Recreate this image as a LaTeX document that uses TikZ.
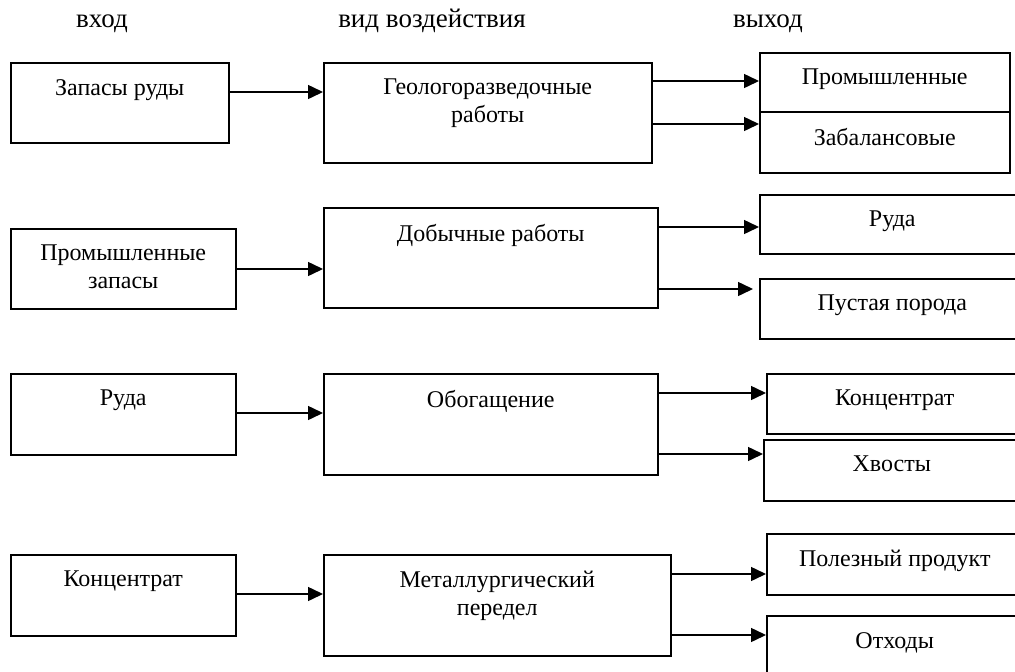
\documentclass[tikz,border=0pt]{standalone}
\usepackage{fontspec}
\setmainfont{Liberation Serif}
\usetikzlibrary{arrows.meta}
\tikzset{
  box/.style={draw, line width=1.5pt, inner sep=0pt, anchor=north west},
  lab/.style={anchor=north, yshift=-17pt, align=center, inner sep=0pt, font=\fontsize{24}{28}\selectfont},
  hdr/.style={anchor=base, inner sep=0pt, font=\fontsize{27}{30}\selectfont},
  arr/.style={line width=1.5pt, -{Triangle[length=15pt,width=14pt]}},
}
\newcommand{\bx}[6]{% name, x1, y1, x2, y2, text
  \node[box, minimum width={(#4-#2)*1pt}, minimum height={(#5-#3)*1pt}, label={[lab]north:#6}] (#1) at (#2,#3) {};}
\begin{document}
\begin{tikzpicture}[x=1pt,y=-1pt]
\useasboundingbox (0,0) rectangle (1015,672);
\clip (0,0) rectangle (1015,672);
\fill[white] (0,0) rectangle (1015,672);
% headers
\node[hdr] (h1) at (102,27) {вход};
\node[hdr] (h2) at (432,27) {вид воздействия};
\node[hdr] (h3) at (768,27) {выход};
% row 1
\bx{l1}{10}{62}{228}{142}{Запасы руды}
\bx{m1}{323}{62}{651}{162}{Геологоразведочные\\работы}
\bx{r1a}{759}{52}{1009}{111}{Промышленные}
\bx{r1b}{759}{111}{1009}{172}{Забалансовые}
% row 2
\bx{l2}{10}{228}{235}{308}{Промышленные\\запасы}
\bx{m2}{323}{207}{657}{307}{Добычные работы}
\bx{r2a}{759}{194}{1024}{253}{Руда}
\bx{r2b}{759}{278}{1024}{338}{Пустая порода}
% row 3
\bx{l3}{10}{373}{235}{454}{Руда}
\bx{m3}{323}{373}{657}{474}{Обогащение}
\bx{r3a}{766}{373}{1022}{433}{Концентрат}
\bx{r3b}{763}{439}{1019}{500}{Хвосты}
% row 4
\bx{l4}{10}{554}{235}{635}{Концентрат}
\bx{m4}{323}{554}{670}{655}{Металлургический\\передел}
\bx{r4a}{766}{533}{1022}{594}{Полезный продукт}
\bx{r4b}{766}{615}{1022}{700}{Отходы}
% connectors
\draw[arr] (l1.east |- 0,92) -- (m1.west |- 0,92);
\draw[arr] (m1.east |- 0,81) -- (r1a.west |- 0,81);
\draw[arr] (m1.east |- 0,124) -- (r1b.west |- 0,124);
\draw[arr] (l2.east |- 0,269) -- (m2.west |- 0,269);
\draw[arr] (m2.east |- 0,227) -- (r2a.west |- 0,227);
\draw[arr] (m2.east |- 0,289) -- ([xshift=-6pt]r2b.west |- 0,289);
\draw[arr] (l3.east |- 0,413) -- (m3.west |- 0,413);
\draw[arr] (m3.east |- 0,393) -- (r3a.west |- 0,393);
\draw[arr] (m3.east |- 0,454) -- (r3b.west |- 0,454);
\draw[arr] (l4.east |- 0,594) -- (m4.west |- 0,594);
\draw[arr] (m4.east |- 0,574) -- (r4a.west |- 0,574);
\draw[arr] (m4.east |- 0,635) -- (r4b.west |- 0,635);
\end{tikzpicture}
\end{document}
